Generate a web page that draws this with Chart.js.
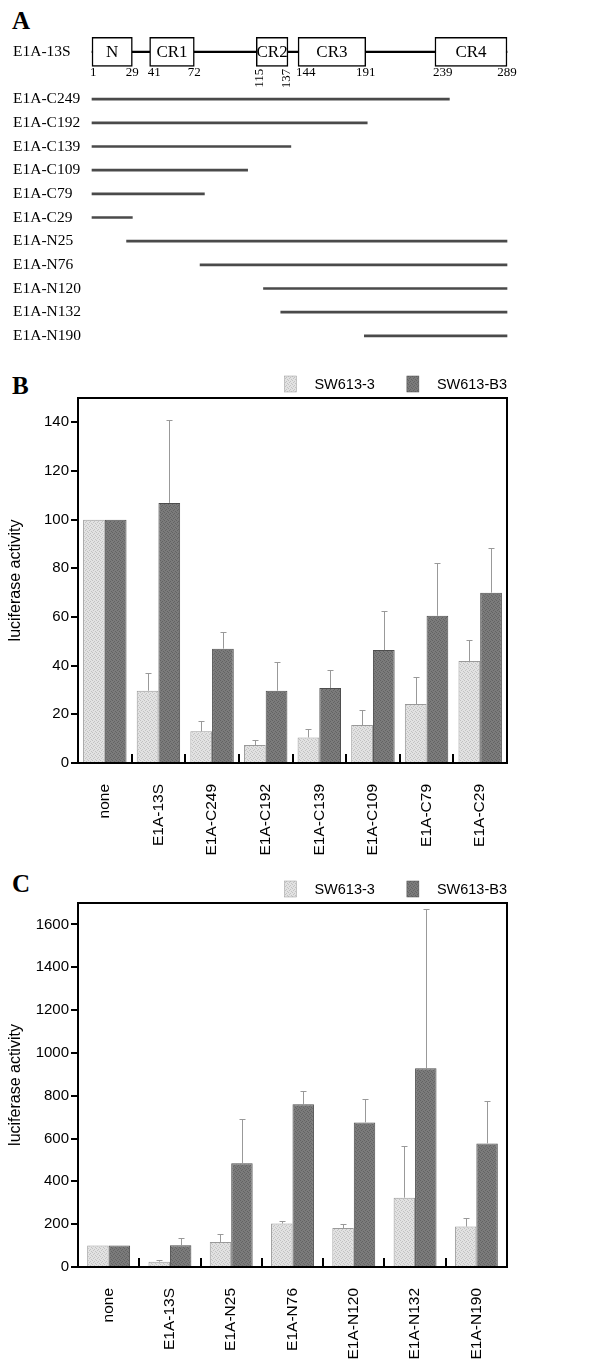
<!DOCTYPE html>
<html>
<head>
<meta charset="utf-8">
<script src="https://cdn.jsdelivr.net/npm/chart.js@4.4.1/dist/chart.umd.min.js"></script>
<style>
  body { margin: 0; background: #fff; width: 600px; height: 1363px; position: relative; overflow: hidden; }
  canvas { position: absolute; left: 0; }
  .panel { position: absolute; left: 12px; font: bold 25px "Liberation Serif", "Times New Roman", serif; line-height: 25px; color: #000; }
</style>
</head>
<body>
<div class="panel" style="top:8px">A</div>
<div class="panel" style="top:373px">B</div>
<div class="panel" style="top:871px">C</div>
<canvas id="panelA" width="600" height="360" style="top:0"></canvas>
<canvas id="panelB" width="600" height="500" style="top:360px"></canvas>
<canvas id="panelC" width="600" height="503" style="top:860px"></canvas>
<script>
// panel A: E1A-13S domains and deletion constructs (amino acid positions)
const domainNames = ['N', 'CR1', 'CR2', 'CR3', 'CR4'];
const domainStart = [1, 41, 115, 144, 239];
const domainEnd = [29, 72, 137, 191, 289];
const constructNames = ['E1A-C249', 'E1A-C192', 'E1A-C139', 'E1A-C109', 'E1A-C79', 'E1A-C29',
  'E1A-N25', 'E1A-N76', 'E1A-N120', 'E1A-N132', 'E1A-N190'];
const constructStart = [1, 1, 1, 1, 1, 1, 25, 76, 120, 132, 190];
const constructEnd = [249, 192, 139, 109, 79, 29, 289, 289, 289, 289, 289];

// panel B: C-terminal deletions
const bLabels = ['none', 'E1A-13S', 'E1A-C249', 'E1A-C192', 'E1A-C139', 'E1A-C109', 'E1A-C79', 'E1A-C29'];
const bSW613_3 = [100, 29.7, 13.0, 7.4, 10.5, 15.6, 24.2, 41.9];
const bSW613_3Err = [null, 37.1, 17.3, 9.4, 14.0, 21.9, 35.3, 50.6];
const bSW613_B3 = [100, 106.9, 47.0, 29.7, 30.8, 46.4, 60.5, 70.0];
const bSW613_B3Err = [null, 140.9, 53.8, 41.5, 38.1, 62.5, 82.2, 88.4];
const bYTicks = [0, 20, 40, 60, 80, 100, 120, 140];

// panel C: N-terminal deletions
const cLabels = ['none', 'E1A-13S', 'E1A-N25', 'E1A-N76', 'E1A-N120', 'E1A-N132', 'E1A-N190'];
const cSW613_3 = [100, 25, 117, 203, 182, 324, 189];
const cSW613_3Err = [null, 33, 154, 217, 203, 567, 231];
const cSW613_B3 = [100, 101, 485, 760, 675, 928, 577];
const cSW613_B3Err = [null, 137, 693, 821, 784, 1670, 773];
const cYTicks = [0, 200, 400, 600, 800, 1000, 1200, 1400, 1600];

const sans = '"Liberation Sans", Arial, sans-serif';
const serif = '"Liberation Serif", "Times New Roman", serif';

function makePattern(base, dot) {
  const c = document.createElement('canvas');
  c.width = 4; c.height = 4;
  const g = c.getContext('2d');
  g.fillStyle = base;
  g.fillRect(0, 0, 4, 4);
  g.fillStyle = dot;
  [[0, 0], [2, 1], [1, 2], [3, 3]].forEach(p => g.fillRect(p[0], p[1], 1, 1));
  return g.createPattern(c, 'repeat');
}
const lightFill = makePattern('#e2e2e2', '#c2c2c2');
const darkFill = makePattern('#7b7b7b', '#636363');

// ---------- panel A ----------
const domainText = {
  id: 'domainText',
  afterDatasetsDraw(chart) {
    const ctx = chart.ctx;
    const x = chart.scales.x, y = chart.scales.y;
    const yc = y.getPixelForValue(0);
    ctx.save();
    ctx.fillStyle = '#000';
    ctx.textBaseline = 'middle';
    ctx.textAlign = 'center';
    ctx.font = '17px ' + serif;
    domainNames.forEach((n, i) => {
      const mid = (x.getPixelForValue(domainStart[i]) + x.getPixelForValue(domainEnd[i])) / 2;
      ctx.fillText(n, mid, yc + 1);
    });
    // boundary positions under the boxes
    ctx.font = '13px ' + serif;
    domainNames.forEach((n, i) => {
      const narrow = domainEnd[i] - domainStart[i] < 25;
      [domainStart[i], domainEnd[i]].forEach((v, k) => {
        const px = x.getPixelForValue(v);
        if (narrow) {
          ctx.save();
          ctx.translate(px + (k ? -1 : 3), yc + 17);
          ctx.rotate(-Math.PI / 2);
          ctx.textAlign = 'right';
          ctx.fillText(String(v), 0, 0);
          ctx.restore();
        } else {
          ctx.textAlign = k ? 'center' : 'left';
          ctx.fillText(String(v), k ? px : px - 2, yc + 21);
        }
      });
    });
    ctx.restore();
  }
};

new Chart(document.getElementById('panelA'), {
  type: 'bar',
  data: {
    labels: ['E1A-13S', ''].concat(constructNames),
    datasets: [{
      label: 'domains',
      data: domainNames.map((n, i) => ({ x: [domainStart[i], domainEnd[i]], y: 'E1A-13S' })),
      backgroundColor: '#fff',
      borderColor: '#000',
      borderWidth: 1.5,
      borderSkipped: false,
      barThickness: 29,
      clip: false,
      order: 1
    }, {
      label: 'constructs',
      data: constructNames.map((n, i) => ({ x: [constructStart[i], constructEnd[i]], y: n })),
      backgroundColor: '#4a4a4a',
      barThickness: 2,
      clip: false,
      order: 2
    }, {
      label: 'backbone',
      data: [{ x: [1, 289], y: 'E1A-13S' }],
      backgroundColor: '#000',
      barThickness: 1.5,
      clip: false,
      order: 3
    }]
  },
  options: {
    responsive: false,
    animation: false,
    indexAxis: 'y',
    datasets: { bar: { grouped: false } },
    layout: { padding: { left: 13, right: 93, top: 40, bottom: 10 } },
    plugins: { legend: { display: false }, tooltip: { enabled: false } },
    scales: {
      x: { type: 'linear', min: 1, max: 289, display: false },
      y: {
        grid: { display: false },
        border: { display: false },
        ticks: { color: '#000', font: { family: serif, size: 15.5 }, crossAlign: 'far', autoSkip: false },
        afterFit(scale) { scale.width = 79; }
      }
    }
  },
  plugins: [domainText]
});

// ---------- panels B and C ----------
const frame = {
  id: 'frame',
  afterDraw(chart) {
    const a = chart.chartArea, ctx = chart.ctx;
    ctx.save();
    ctx.strokeStyle = '#000';
    ctx.lineWidth = 2;
    ctx.strokeRect(a.left, a.top, a.right - a.left, a.bottom - a.top);
    // group separators on the x axis
    const x = chart.scales.x;
    for (let i = 1; i < chart.data.labels.length; i++) {
      const px = Math.round((x.getPixelForValue(i - 1) + x.getPixelForValue(i)) / 2);
      ctx.beginPath();
      ctx.moveTo(px, a.bottom);
      ctx.lineTo(px, a.bottom - 9);
      ctx.stroke();
    }
    ctx.restore();
  }
};

const errorBars = {
  id: 'errorBars',
  afterDatasetsDraw(chart) {
    const ctx = chart.ctx, y = chart.scales.y;
    ctx.save();
    ctx.strokeStyle = '#999';
    ctx.lineWidth = 1;
    chart.data.datasets.forEach((ds, d) => {
      chart.getDatasetMeta(d).data.forEach((bar, i) => {
        const e = ds.errorTop[i];
        if (e == null) return;
        const x0 = Math.round(bar.x) + 0.5;
        const top = Math.round(y.getPixelForValue(e)) + 0.5;
        ctx.beginPath();
        ctx.moveTo(x0, bar.y);
        ctx.lineTo(x0, top);
        ctx.moveTo(x0 - 3, top);
        ctx.lineTo(x0 + 3, top);
        ctx.stroke();
      });
    });
    ctx.restore();
  }
};

const legendRow = {
  id: 'legendRow',
  afterDraw(chart) {
    const ctx = chart.ctx, a = chart.chartArea;
    const dsets = chart.data.datasets;
    ctx.save();
    ctx.font = '14.5px ' + sans;
    const widths = dsets.map(ds => ctx.measureText(ds.label).width);
    let total = 0;
    widths.forEach((w, i) => { total += 30 + w + (i ? 32 : 0); });
    let x = a.right - total;
    const yc = a.top - 14;
    ctx.textBaseline = 'middle';
    ctx.textAlign = 'left';
    dsets.forEach((ds, i) => {
      ctx.fillStyle = ds.backgroundColor;
      ctx.fillRect(x, yc - 8, 12, 16);
      ctx.strokeStyle = ds.borderColor;
      ctx.lineWidth = 0.5;
      ctx.strokeRect(x, yc - 8, 12, 16);
      ctx.fillStyle = '#000';
      ctx.fillText(ds.label, x + 30, yc + 1);
      x += 30 + widths[i] + 32;
    });
    ctx.restore();
  }
};

function activityChart(id, labels, light, lightErr, dark, darkErr, yMax, yTicks, catPct, padTop, xHeight) {
  return new Chart(document.getElementById(id), {
    type: 'bar',
    data: {
      labels: labels,
      datasets: [{
        label: 'SW613-3',
        data: light,
        errorTop: lightErr,
        backgroundColor: lightFill,
        borderColor: '#9a9a9a',
        borderWidth: 1
      }, {
        label: 'SW613-B3',
        data: dark,
        errorTop: darkErr,
        backgroundColor: darkFill,
        borderColor: '#4d4d4d',
        borderWidth: 1
      }]
    },
    options: {
      responsive: false,
      animation: false,
      barPercentage: 1,
      categoryPercentage: catPct,
      layout: { padding: { left: 0, right: 93, top: padTop, bottom: 0 } },
      plugins: { legend: { display: false }, tooltip: { enabled: false } },
      scales: {
        x: {
          grid: { display: false },
          border: { display: true, color: '#000', width: 2 },
          ticks: { color: '#000', font: { family: sans, size: 15.5 }, maxRotation: 90, minRotation: 90, autoSkip: false, padding: 13 },
          afterFit(scale) { scale.height = xHeight; }
        },
        y: {
          min: 0,
          max: yMax,
          grid: { drawOnChartArea: false, drawTicks: true, tickLength: 7, color: '#000', lineWidth: 2 },
          border: { display: true, color: '#000', width: 2 },
          ticks: { color: '#000', font: { family: sans, size: 15 }, padding: 2, callback: v => String(v) },
          afterBuildTicks(scale) { scale.ticks = yTicks.map(v => ({ value: v })); },
          title: { display: true, text: 'luciferase activity', color: '#000', font: { family: sans, size: 16 }, padding: { top: 6, bottom: 0 } },
          afterFit(scale) { scale.width = 78; }
        }
      }
    },
    plugins: [errorBars, frame, legendRow]
  });
}

activityChart('panelB', bLabels, bSW613_3, bSW613_3Err, bSW613_B3, bSW613_B3Err, 150, bYTicks, 0.81, 38, 97);
activityChart('panelC', cLabels, cSW613_3, cSW613_3Err, cSW613_B3, cSW613_B3Err, 1700, cYTicks, 0.70, 43, 96);
</script>
</body>
</html>
